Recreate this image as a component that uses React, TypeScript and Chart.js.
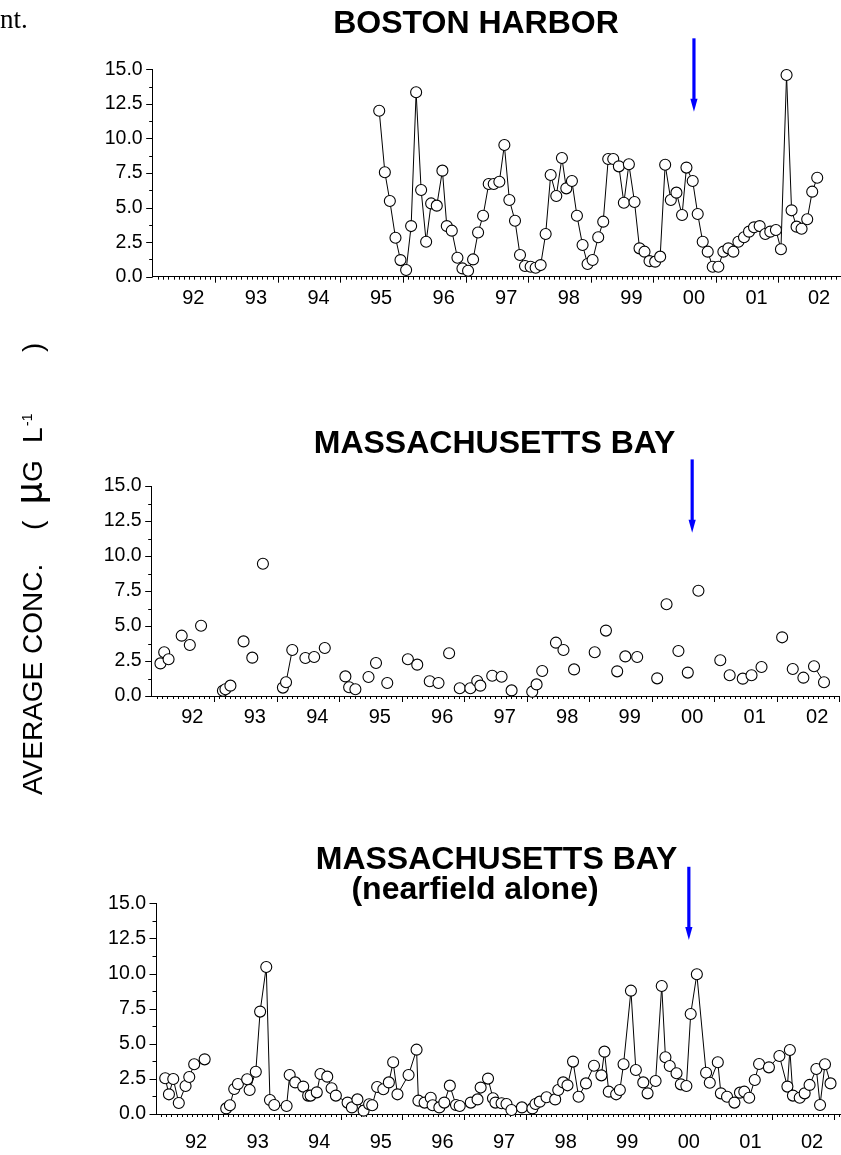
import { useEffect, useRef } from "react";
import { Chart, registerables } from "chart.js";

Chart.register(...registerables);

const SANS = '"Liberation Sans", Arial, Helvetica, sans-serif';
const SERIF = '"Liberation Serif", "Times New Roman", serif';
const PAGE_W = 841;
const PAGE_H = 1155;

// Year axis: labels "92" … "02", printed part-way through each year
const YEAR_LABELS = ["92", "93", "94", "95", "96", "97", "98", "99", "00", "01", "02"];
const FIRST_YEAR = 1992;
const LABEL_SHIFT = 0.65;

// Concentration axis (µg/L)
const CONC_MAX = 15;
const CONC_STEP = 2.5;

// Outfall start-up marker (decimal year)
const OUTFALL_START = 2000.65;

// Boston Harbor survey means
const HARBOR_DATES = [
  1995.62, 1995.71, 1995.79, 1995.88, 1995.96,
  1996.05, 1996.13, 1996.21, 1996.29, 1996.37, 1996.45, 1996.54, 1996.63, 1996.7, 1996.78, 1996.87, 1996.95,
  1997.04, 1997.12, 1997.2, 1997.28, 1997.37, 1997.45, 1997.54, 1997.62, 1997.7, 1997.79, 1997.87, 1997.95,
  1998.04, 1998.12, 1998.2, 1998.28, 1998.36, 1998.45, 1998.54, 1998.61, 1998.7, 1998.78, 1998.87, 1998.95,
  1999.03, 1999.12, 1999.2, 1999.28, 1999.36, 1999.45, 1999.53, 1999.61, 1999.7, 1999.78, 1999.86, 1999.94,
  2000.03, 2000.11, 2000.19, 2000.28, 2000.37, 2000.46, 2000.53, 2000.63, 2000.71, 2000.79, 2000.87, 2000.95,
  2001.04, 2001.12, 2001.2, 2001.28, 2001.36, 2001.45, 2001.53, 2001.61, 2001.7, 2001.79, 2001.87, 2001.96,
  2002.04, 2002.13, 2002.21, 2002.29, 2002.37, 2002.46, 2002.54, 2002.62,
];
const HARBOR_CONC = [
  12.0, 7.55, 5.47, 2.82, 1.2,
  0.48, 3.66, 13.34, 6.27, 2.53, 5.3, 5.14, 7.67, 3.66, 3.33, 1.37, 0.6,
  0.43, 1.25, 3.2, 4.41, 6.7, 6.7, 6.87, 9.52, 5.55, 4.05, 1.57, 0.77,
  0.72, 0.65, 0.84, 3.09, 7.35, 5.84, 8.58, 6.39, 6.92, 4.41, 2.29, 0.92,
  1.21, 2.85, 3.98, 8.51, 8.51, 7.98, 5.35, 8.13, 5.4, 2.05, 1.81, 1.13,
  1.09, 1.45, 8.1, 5.55, 6.08, 4.46, 7.89, 6.92, 4.53, 2.53, 1.81, 0.72,
  0.72, 1.81, 2.05, 1.81, 2.53, 2.85, 3.26, 3.57, 3.66, 3.09, 3.26, 3.38,
  1.98, 14.59, 4.8, 3.62, 3.47, 4.15, 6.15, 7.16,
];

// Massachusetts Bay survey means (all stations)
const BAY_DATES = [
  1992.14, 1992.2, 1992.27, 1992.48, 1992.61, 1992.79,
  1993.14, 1993.18, 1993.26, 1993.47, 1993.61, 1993.78,
  1994.1, 1994.15, 1994.25, 1994.46, 1994.6, 1994.77,
  1995.1, 1995.16, 1995.26, 1995.47, 1995.59, 1995.77,
  1996.1, 1996.25, 1996.45, 1996.59, 1996.76, 1996.93,
  1997.1, 1997.21, 1997.26, 1997.45, 1997.6, 1997.76,
  1998.09, 1998.16, 1998.25, 1998.47, 1998.59, 1998.76,
  1999.09, 1999.27, 1999.45, 1999.58, 1999.77,
  2000.09, 2000.24, 2000.43, 2000.58, 2000.75,
  2001.1, 2001.25, 2001.46, 2001.6, 2001.76,
  2002.09, 2002.26, 2002.43, 2002.6, 2002.76,
];
const BAY_CONC = [
  2.33, 3.12, 2.62, 4.31, 3.64, 5.02,
  0.38, 0.48, 0.74, 3.9, 2.74, 9.45,
  0.6, 0.98, 3.29, 2.71, 2.79, 3.43,
  1.4, 0.62, 0.48, 1.36, 2.36, 0.93,
  2.62, 2.24, 1.05, 0.93, 3.05, 0.55,
  0.55, 1.07, 0.74, 1.45, 1.38, 0.4,
  0.31, 0.83, 1.79, 3.81, 3.29, 1.9,
  3.12, 4.67, 1.76, 2.83, 2.79,
  1.26, 6.55, 3.21, 1.67, 7.52,
  2.55, 1.48, 1.24, 1.48, 2.07,
  4.19, 1.93, 1.31, 2.12, 0.98,
];
// Survey pairs joined by a line (index of the first point of each pair)
const BAY_JOINED = [6, 7, 13, 60];

// Nearfield stations alone
const NEAR_DATES = [
  1992.15, 1992.21, 1992.28, 1992.37, 1992.48, 1992.54, 1992.62, 1992.79,
  1993.14, 1993.2, 1993.27, 1993.33, 1993.48, 1993.52, 1993.62, 1993.69, 1993.79, 1993.85, 1993.92,
  1994.12, 1994.17, 1994.26, 1994.39, 1994.47, 1994.51, 1994.61, 1994.67, 1994.78, 1994.85, 1994.92,
  1995.11, 1995.18, 1995.27, 1995.37, 1995.46, 1995.51, 1995.59, 1995.69, 1995.78, 1995.85, 1995.92,
  1996.1, 1996.23, 1996.26, 1996.36, 1996.46, 1996.49, 1996.6, 1996.68, 1996.77, 1996.87, 1996.93,
  1997.11, 1997.22, 1997.27, 1997.39, 1997.47, 1997.51, 1997.61, 1997.69, 1997.77, 1997.94,
  1998.11, 1998.16, 1998.23, 1998.34, 1998.48, 1998.53, 1998.61, 1998.68, 1998.77, 1998.86, 1998.98,
  1999.11, 1999.23, 1999.28, 1999.35, 1999.47, 1999.53, 1999.59, 1999.71, 1999.79, 1999.91, 1999.98,
  2000.11, 2000.21, 2000.27, 2000.34, 2000.45, 2000.52, 2000.61, 2000.68, 2000.78, 2000.93, 2000.99,
  2001.12, 2001.17, 2001.27, 2001.39, 2001.48, 2001.55, 2001.63, 2001.72, 2001.79, 2001.95,
  2002.12, 2002.25, 2002.29, 2002.34, 2002.45, 2002.53, 2002.61, 2002.72, 2002.78, 2002.86, 2002.95,
];
const NEAR_CONC = [
  2.54, 1.4, 2.49, 0.78, 1.99, 2.63, 3.54, 3.89,
  0.4, 0.62, 1.78, 2.14, 2.47, 1.71, 3.01, 7.29, 10.47, 1.0, 0.64,
  0.57, 2.78, 2.25, 1.95, 1.31, 1.31, 1.54, 2.85, 2.66, 1.83, 1.31,
  0.81, 0.47, 1.04, 0.24, 0.69, 0.62, 1.92, 1.76, 2.25, 3.68, 1.4,
  2.78, 4.58, 0.95, 0.81, 1.16, 0.62, 0.47, 0.81, 2.02, 0.64, 0.57,
  0.81, 1.04, 1.88, 2.52, 1.12, 0.81, 0.76, 0.71, 0.28, 0.47,
  0.4, 0.71, 0.88, 1.19, 1.04, 1.71, 2.25, 2.04, 3.73, 1.23, 2.18,
  3.44, 2.75, 4.44, 1.59, 1.4, 1.71, 3.54, 8.78, 3.13, 2.25, 1.47,
  2.35, 9.11, 4.04, 3.42, 2.9, 2.11, 1.99, 7.12, 9.95, 2.94, 2.23,
  3.68, 1.47, 1.23, 0.81, 1.52, 1.59, 1.16, 2.42, 3.56, 3.32,
  4.13, 1.95, 4.56, 1.31, 1.16, 1.47, 2.07, 3.2, 0.64, 3.54, 2.18,
];
// Line is broken after these points
const NEAR_BREAKS = [7];

interface Panel {
  top: number;
  height: number;
  left: number;
  right: number;
  plotTop: number;
  plotBottom: number;
  xMax: number;
  labelPad: number;
  titles: [string, number, number][];
  arrow: [number, number];
  dates: number[];
  conc: number[];
  joined: (i: number) => boolean;
}

const PANELS: Panel[] = [
  {
    top: 0, height: 330, left: 152.7, right: 841, plotTop: 69.3, plotBottom: 276.7, xMax: 2003.0,
    labelPad: 10,
    titles: [["BOSTON HARBOR", 476, 33]],
    arrow: [17.24, 11.93],
    dates: HARBOR_DATES, conc: HARBOR_CONC,
    joined: () => true,
  },
  {
    top: 400, height: 330, left: 151.7, right: 839, plotTop: 86, plotBottom: 296, xMax: 2003.0,
    labelPad: 9,
    titles: [["MASSACHUSETTS BAY", 494.5, 53]],
    arrow: [16.9, 11.66],
    dates: BAY_DATES, conc: BAY_CONC,
    joined: (i) => BAY_JOINED.includes(i),
  },
  {
    top: 820, height: 335, left: 156, right: 841, plotTop: 83.3, plotBottom: 294, xMax: 2003.12,
    labelPad: 16,
    titles: [["MASSACHUSETTS BAY", 496.5, 49], ["(nearfield alone)", 475, 79]],
    arrow: [17.6, 12.38],
    dates: NEAR_DATES, conc: NEAR_CONC,
    joined: (i) => !NEAR_BREAKS.includes(i),
  },
];

function PanelChart({ p }: { p: Panel }) {
  const ref = useRef<HTMLCanvasElement>(null);

  useEffect(() => {
    const canvas = ref.current;
    if (!canvas) return;

    // Monthly / yearly ticks on the time axis, half-steps on the value axis
    const axisTicks = {
      id: "axisTicks",
      beforeDatasetsDraw(chart: any) {
        const { ctx, chartArea: a, scales } = chart;
        const xs = scales.x;
        const ys = scales.y;
        ctx.save();
        ctx.strokeStyle = "#000";
        ctx.lineWidth = 1;
        ctx.beginPath();
        const m0 = Math.ceil(xs.min * 12);
        const m1 = Math.floor(xs.max * 12);
        for (let m = m0; m <= m1; m++) {
          const px = Math.round(xs.getPixelForValue(m / 12)) + 0.5;
          if (px <= a.left + 1) continue;
          const len = m % 12 === 0 ? 6 : 3;
          ctx.moveTo(px, a.bottom);
          ctx.lineTo(px, a.bottom + len);
        }
        for (let k = 0; k <= (CONC_MAX / CONC_STEP) * 2; k++) {
          const py = Math.round(ys.getPixelForValue((k * CONC_STEP) / 2)) + 0.5;
          const len = k % 2 === 0 ? 6.5 : 3.5;
          ctx.moveTo(a.left, py);
          ctx.lineTo(a.left - len, py);
        }
        ctx.stroke();
        ctx.restore();
      },
    };

    // Blue arrow marking the outfall start-up
    const outfallArrow = {
      id: "outfallArrow",
      afterDatasetsDraw(chart: any) {
        const { ctx, scales } = chart;
        const x = scales.x.getPixelForValue(OUTFALL_START);
        const yTop = scales.y.getPixelForValue(p.arrow[0]);
        const yTip = scales.y.getPixelForValue(p.arrow[1]);
        const head = 13;
        ctx.save();
        ctx.strokeStyle = "#0000ff";
        ctx.fillStyle = "#0000ff";
        ctx.lineWidth = 3.2;
        ctx.beginPath();
        ctx.moveTo(x, yTop);
        ctx.lineTo(x, yTip - head + 1);
        ctx.stroke();
        ctx.beginPath();
        ctx.moveTo(x - 3.6, yTip - head);
        ctx.lineTo(x + 3.6, yTip - head);
        ctx.lineTo(x, yTip);
        ctx.closePath();
        ctx.fill();
        ctx.restore();
      },
    };

    const panelTitle = {
      id: "panelTitle",
      afterDraw(chart: any) {
        const { ctx } = chart;
        ctx.save();
        ctx.fillStyle = "#000";
        ctx.font = `bold 32px ${SANS}`;
        ctx.textAlign = "center";
        ctx.textBaseline = "alphabetic";
        p.titles.forEach(([text, x, y]) => ctx.fillText(text, x, y));
        ctx.restore();
      },
    };

    const chart = new Chart(canvas, {
      type: "line",
      data: {
        datasets: [
          {
            data: p.dates.map((d, i) => ({ x: d, y: p.conc[i] })),
            borderColor: "#000",
            borderWidth: 1,
            pointRadius: 5.5,
            pointBorderWidth: 1.1,
            pointBackgroundColor: "#fff",
            pointBorderColor: "#000",
            tension: 0,
            clip: false as any,
            segment: {
              borderColor: (c: any) => (p.joined(c.p0DataIndex) ? "#000" : "rgba(0,0,0,0)"),
            },
          },
        ],
      },
      options: {
        responsive: false,
        animation: false,
        devicePixelRatio: 1,
        events: [],
        layout: {
          autoPadding: false,
          padding: { left: 0, right: PAGE_W - p.right, top: p.plotTop, bottom: 0 },
        },
        plugins: {
          legend: { display: false },
          tooltip: { enabled: false },
        },
        scales: {
          x: {
            type: "linear",
            min: FIRST_YEAR,
            max: p.xMax,
            grid: { display: false, drawTicks: false },
            border: { display: true, color: "#000", width: 1 },
            afterBuildTicks: (s: any) => {
              s.ticks = YEAR_LABELS.map((_, i) => ({ value: FIRST_YEAR + i + LABEL_SHIFT }));
            },
            afterFit: (s: any) => {
              s.height = p.height - p.plotBottom;
            },
            ticks: {
              autoSkip: false,
              maxRotation: 0,
              minRotation: 0,
              padding: p.labelPad,
              color: "#000",
              font: { family: SANS, size: 20 },
              callback: (_v: any, i: number) => YEAR_LABELS[i],
            },
          },
          y: {
            type: "linear",
            min: 0,
            max: CONC_MAX,
            grid: { display: false, drawTicks: false },
            border: { display: true, color: "#000", width: 1 },
            afterFit: (s: any) => {
              s.width = p.left;
            },
            ticks: {
              stepSize: CONC_STEP,
              padding: 10,
              color: "#000",
              font: { family: SANS, size: 19.5 },
              callback: (v: any) => Number(v).toFixed(1),
            },
          },
        },
      },
      plugins: [axisTicks, outfallArrow, panelTitle],
    } as any);

    return () => chart.destroy();
  }, [p]);

  return (
    <canvas
      ref={ref}
      width={PAGE_W}
      height={p.height}
      style={{ position: "absolute", left: 0, top: p.top, width: PAGE_W, height: p.height }}
    />
  );
}

// Shared vertical axis title and the stray text at the top-left corner
function SideText() {
  const ref = useRef<HTMLCanvasElement>(null);

  useEffect(() => {
    const canvas = ref.current;
    if (!canvas) return;
    const ctx = canvas.getContext("2d");
    if (!ctx) return;
    ctx.clearRect(0, 0, canvas.width, canvas.height);
    ctx.fillStyle = "#000";
    ctx.textBaseline = "alphabetic";

    ctx.font = `27px ${SERIF}`;
    ctx.fillText("nt.", 0, 28);

    ctx.save();
    ctx.translate(42, 795);
    ctx.rotate(-Math.PI / 2);
    ctx.font = `28px ${SANS}`;
    ctx.fillText("AVERAGE CONC.", 0, 0);
    ctx.fillText("(", 265, 0);
    ctx.font = `38px ${SANS}`;
    ctx.fillText("µ", 291, 0);
    const muW = ctx.measureText("µ").width;
    ctx.font = `28px ${SANS}`;
    ctx.fillText("G", 291 + muW, 0);
    ctx.fillText("L", 352, 0);
    ctx.font = `14px ${SANS}`;
    ctx.fillText("-1", 369, -10);
    ctx.font = `28px ${SANS}`;
    ctx.fillText(")", 443, 0);
    ctx.restore();
  }, []);

  return (
    <canvas
      ref={ref}
      width={80}
      height={PAGE_H}
      style={{ position: "absolute", left: 0, top: 0, width: 80, height: PAGE_H }}
    />
  );
}

export default function App() {
  return (
    <div
      style={{
        position: "absolute",
        left: 0,
        top: 0,
        width: PAGE_W,
        height: PAGE_H,
        background: "#fff",
        overflow: "hidden",
      }}
    >
      {PANELS.map((p, i) => (
        <PanelChart key={i} p={p} />
      ))}
      <SideText />
    </div>
  );
}
